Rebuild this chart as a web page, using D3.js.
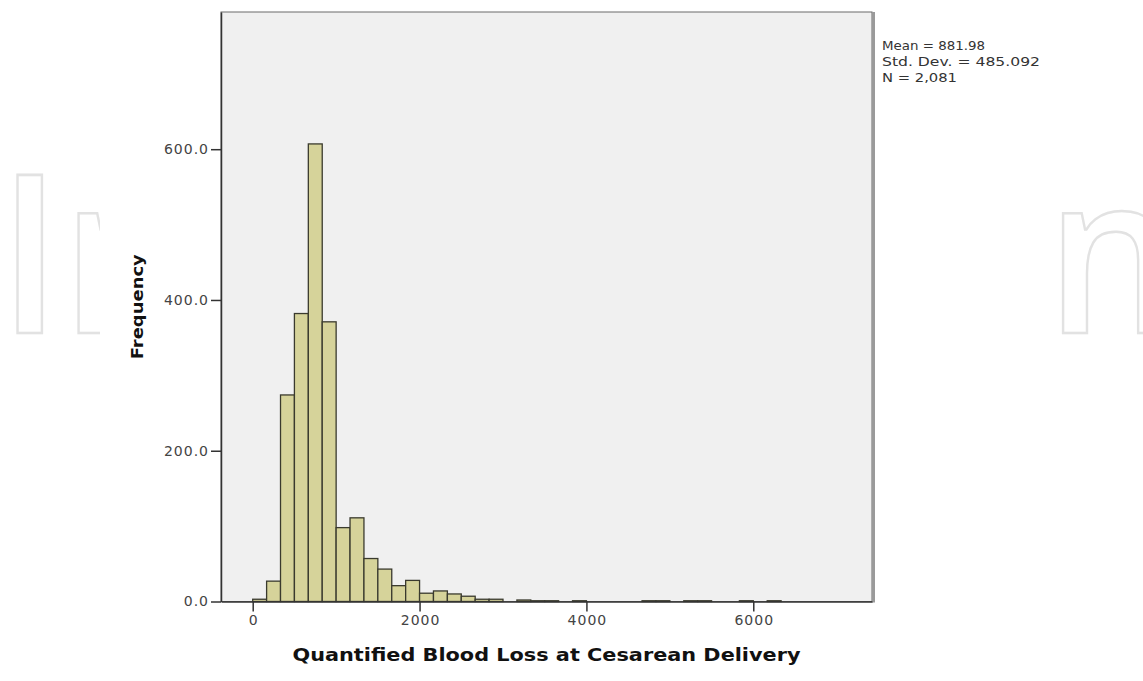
<!DOCTYPE html>
<html><head><meta charset="utf-8">
<script src="https://cdn.jsdelivr.net/npm/d3@7/dist/d3.min.js"></script>
<style>body{margin:0;background:#fff}</style>
</head><body>
<svg id="c" width="1143" height="681"></svg>
<script>
// ---- data ----
const firstBinStart = 0;
const binWidth = 166.67;
const counts = [3,27,274,382,607,371,98,111,57,43,21,28,11,14,10,7,3,3,0,2,1,1,0,1,0,0,0,0,1,1,0,1,1,0,0,1,0,1];
const xTicks = [0,2000,4000,6000];
const yTicks = [0,200,400,600];
const statLines = ["Mean = 881.98","Std. Dev. = 485.092","N = 2,081"];
const xTitle = "Quantified Blood Loss at Cesarean Delivery";
const yTitle = "Frequency";
const watermark = "IntechOpen";

// ---- layout ----
const L = 221, R = 872, T = 12, B = 601.5;
const statWidths = [103, 158, 75];
const svg = d3.select("#c");

// watermark, visible only outside the chart picture
const defs = svg.append("defs");
const cp = defs.append("clipPath").attr("id", "wm");
cp.append("rect").attr("x", 0).attr("y", 0).attr("width", 100).attr("height", 681);
cp.append("rect").attr("x", 1058).attr("y", 0).attr("width", 100).attr("height", 681);
const wmG = svg.append("g").attr("clip-path", "url(#wm)");
const wm = wmG.append("text").attr("x", 0).attr("y", 333)
  .attr("font-family", "Open Sans").attr("font-weight", 600).attr("font-size", 221)
  .attr("fill", "none").attr("stroke", "#e2e2e2").attr("stroke-width", 2.5)
  .text(watermark);
{
  const n = wm.node();
  const p0 = n.getStartPositionOfChar(0).x, p9 = n.getStartPositionOfChar(9).x;
  const t0 = -2, t9 = 1046;
  const s = (t9 - t0) / (p9 - p0);
  wm.attr("transform", `translate(${t0 - s * p0},0) scale(${s},1)`);
}

const x = d3.scaleLinear().domain([-380, 7423]).range([L, R]);
const y = d3.scaleLinear().domain([0, 782]).range([B, T]);

// plot background
svg.append("rect").attr("x", L).attr("y", T).attr("width", R - L).attr("height", B - T)
  .attr("fill", "#f0f0f0").attr("stroke", "#6a6a6a").attr("stroke-width", 1);
svg.append("line").attr("x1", R + 1.5).attr("x2", R + 1.5).attr("y1", T).attr("y2", B + 1)
  .attr("stroke", "#9a9a9a").attr("stroke-width", 3);

// bars
const bins = counts.map((c, i) => ({x0: firstBinStart + i * binWidth, x1: firstBinStart + (i + 1) * binWidth, c}))
  .filter(d => d.c > 0);
svg.append("g").selectAll("rect").data(bins).join("rect")
  .attr("x", d => x(d.x0)).attr("width", d => x(d.x1) - x(d.x0))
  .attr("y", d => y(d.c)).attr("height", d => y(0) - y(d.c))
  .attr("fill", "#d6d39a").attr("stroke", "#3a3a2e").attr("stroke-width", 1.3);

// axes
const ya = svg.append("g").attr("transform", `translate(${L},0)`)
  .call(d3.axisLeft(y).tickValues(yTicks).tickFormat(d3.format(".1f")).tickSize(10).tickSizeOuter(0).tickPadding(2));
const xa = svg.append("g").attr("transform", `translate(0,${B})`)
  .call(d3.axisBottom(x).tickValues(xTicks).tickFormat(d3.format("d")).tickSize(10).tickSizeOuter(0).tickPadding(4));
[ya, xa].forEach(a => {
  a.select(".domain").attr("stroke", "#333").attr("stroke-width", 1.5);
  a.selectAll(".tick line").attr("stroke", "#333").attr("stroke-width", 1.5);
  a.selectAll(".tick text").attr("font-family", "DejaVu Sans").attr("font-size", 14)
    .attr("letter-spacing", 1).attr("fill", "#444");
});
xa.selectAll(".tick text").attr("dx", 0.5);

// titles
svg.append("text").attr("x", (L + R) / 2).attr("y", 661).attr("text-anchor", "middle")
  .attr("font-family", "DejaVu Sans").attr("font-weight", "bold").attr("font-size", 17).attr("fill", "#111")
  .attr("textLength", 508).attr("lengthAdjust", "spacingAndGlyphs")
  .text(xTitle);
svg.append("text").attr("transform", `translate(143,${(T + B) / 2}) rotate(-90)`).attr("text-anchor", "middle")
  .attr("font-family", "DejaVu Sans").attr("font-weight", "bold").attr("font-size", 16).attr("fill", "#111")
  .attr("textLength", 105).attr("lengthAdjust", "spacingAndGlyphs")
  .text(yTitle);

// stats
svg.append("g").selectAll("text").data(statLines).join("text")
  .attr("x", 882).attr("y", (d, i) => 50 + i * 16)
  .attr("font-family", "DejaVu Sans").attr("font-size", 13).attr("fill", "#333")
  .attr("textLength", (d, i) => statWidths[i]).attr("lengthAdjust", "spacingAndGlyphs")
  .text(d => d);
</script>
</body></html>
